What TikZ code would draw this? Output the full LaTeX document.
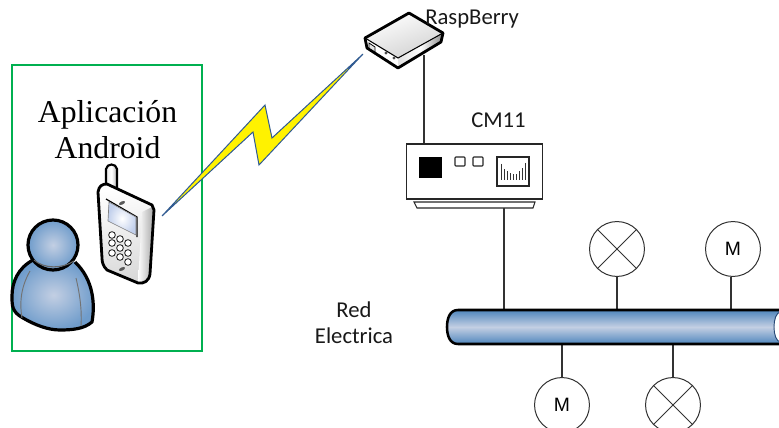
\documentclass[tikz,border=0pt]{standalone}
\usepackage{fontspec}
\setmainfont{Liberation Serif}
\newfontfamily\calfont{Carlito}
\newfontfamily\arialfont{Liberation Sans}
\definecolor{frameg}{HTML}{00B050}
\definecolor{boltline}{HTML}{2F5A94}
\definecolor{busdark}{HTML}{4F86BD}
\definecolor{buslight}{HTML}{C3CFE3}
\definecolor{persondark}{HTML}{6F9CCB}
\definecolor{screenblue}{HTML}{C2D0EC}
\definecolor{lineg}{HTML}{333333}
\tikzset{
  every node/.style={inner sep=0pt},
  wire/.style={draw=lineg,line width=0.95pt},
  load/.style={circle,draw=lineg,line width=0.75pt,minimum size=41.2pt,fill=white},
  caption/.style={font=\calfont\fontsize{17}{19.5}\selectfont,align=center,text=black!90},
  thick outline/.style={draw=black,line width=2.1pt,line join=round},
  key/.style={circle,draw=black!85,line width=0.65pt,fill=white,minimum size=5pt},
}
\begin{document}
\begin{tikzpicture}[x=0.75pt,y=-0.75pt]
\useasboundingbox (0,0) rectangle (779,428);
\clip (0,0) rectangle (779,428);
% frame
\path[draw=frameg,line width=1.1pt] (12,65) rectangle (202,351);
\node[align=center,font=\fontsize{23.8}{27}\selectfont] (app) at (107.5,130) {Aplicación\\Android};
% connection points
\coordinate (busT) at (500,310);
\coordinate (busB) at (500,344);
\coordinate (routerBase) at (424,55);
% bolt
\path[draw=boltline,line width=0.75pt,fill=yellow,line join=miter] (162,216) -- (265,105) -- (272,138) -- (363,54) -- (259,165) -- (253,132) -- cycle;
% wires behind
\node[draw=black!85,line width=1pt,fill=white,minimum width=102pt,minimum height=41pt] (cm) at (474.5,171.5) {};
\draw[wire] (routerBase) -- (routerBase |- cm.north);
% router
\path[shade,top color=white,bottom color=black!18,shading angle=20] (365,38) -- (409,13) -- (443,33) -- (398,58) -- cycle;
\path[left color=black!12,right color=black!45,middle color=white] (398,58) -- (443,33) -- (441,42) -- (398,68) -- cycle;
\path[fill=white] (365,38) -- (398,58) -- (398,68) -- (367,48) -- cycle;
\draw[draw=black,line width=0.6pt,fill=black!10] (369,43) -- (375,47) -- (375,53) -- (369,49) -- cycle;
\fill[black!70] (386,53) circle (1.7) (394,58) circle (1.7);
\draw[thick outline] (365,38) -- (409,13) -- (443,33) -- (441,42) -- (398,68) -- (367,48) -- cycle;
\draw[draw=black,line width=0.8pt] (365,38) -- (398,58) -- (443,33);
% CM11 details
\fill[black] (419,157) rectangle (442,178);
\draw[draw=black!85,line width=0.8pt,rounded corners=0.6pt] (455,157) rectangle (465,166) (473,157) rectangle (483,166);
\draw[draw=black!85,line width=0.8pt] (497,157) rectangle (529,186);
\foreach \xx/\yb in {501/164,504/169,507/171,510/173,513/174,516/174,519/171,522/168,525/163}{
  \draw[draw=black!80,line width=0.5pt] (\xx,\yb) -- (\xx,180);
}
\path[draw=black!85,line width=0.8pt,fill=white] (414,202) -- (535,202) -- (533,208) -- (417,208) -- cycle;
\coordinate (cmBase) at (504,208);
\node[caption] (lblcm) at (498.5,120) {CM11};
\node[caption,anchor=west] (lblr) at (425,19) {RaspBerry};
\node[caption] (lblred) at (354,323) {Red\\Electrica};
% wires to the bus
\draw[wire] (cmBase) -- (cmBase |- busT);
\node[load] (lampA) at (617,249) {};
\draw[line width=0.75pt,draw=lineg] (lampA.north west) -- (lampA.south east) (lampA.north east) -- (lampA.south west);
\node[load,font=\arialfont\fontsize{14.5}{16}\selectfont] (motA) at (733,249) {M};
\node[load,font=\arialfont\fontsize{14.5}{16}\selectfont] (motB) at (562,405) {M};
\node[load] (lampB) at (673,405) {};
\draw[line width=0.75pt,draw=lineg] (lampB.north west) -- (lampB.south east) (lampB.north east) -- (lampB.south west);
\draw[wire] (lampA.south) -- (lampA.south |- busT);
\draw[wire] ([xshift=-1.5pt]motA.south) -- ([xshift=-1.5pt]motA.south |- busT);
\draw[wire] (motB.north) -- (motB.north |- busB);
\draw[wire] (lampB.north) -- (lampB.north |- busB);
% bus
\path[shade,shading=axis,top color=busdark,bottom color=busdark,middle color=buslight,shading angle=0]
  (458,310) -- (800,310) -- (800,344) -- (458,344) .. controls (450,344) and (447,336) .. (447,327) .. controls (447,318) and (450,310) .. (458,310) -- cycle;
\draw[draw=black,line width=1.9pt] (800,310) -- (458,310) .. controls (450,310) and (447,318) .. (447,327) .. controls (447,336) and (450,344) .. (458,344) -- (800,344);
\draw[draw=boltline!80!black,line width=0.7pt,fill=white] (790,312) -- (781,312) .. controls (776,312) and (774,320) .. (774,327) .. controls (774,334) and (776,342) .. (781,342) -- (790,342) -- cycle;
% person
\path[inner color=buslight,outer color=persondark] (33,260) .. controls (18,268) and (12,282) .. (12,296) .. controls (12,306) and (12,312) .. (23,318) .. controls (35,325) and (48,330) .. (60,330) .. controls (72,330) and (84,329) .. (92,322) .. controls (95,305) and (94,280) .. (75,262) -- cycle;
\draw[thick outline,line width=2.4pt] (33,260) .. controls (18,268) and (12,282) .. (12,296) .. controls (12,306) and (12,312) .. (23,318) .. controls (35,325) and (48,330) .. (60,330) .. controls (72,330) and (84,329) .. (92,322) .. controls (95,305) and (94,280) .. (75,262);
\path[inner color=buslight,outer color=persondark,draw=black,line width=2.4pt] (53,245) circle (25);
\draw[draw=black!60,line width=0.8pt] (34,260) .. controls (44,269) and (62,269) .. (74,261);
\draw[draw=black!55,line width=0.7pt] (30,271) .. controls (22,285) and (19,300) .. (22,318);
\draw[draw=black!55,line width=0.7pt] (76,278) .. controls (80,295) and (82,310) .. (81,326);
% phone
\path[left color=black!8,right color=black!30,middle color=white,draw=black,line width=1.6pt] (106,190) -- (106,169) .. controls (107,163) and (116,163) .. (117,169) -- (117,190) -- cycle;
\path[shade,top color=white,bottom color=black!15,shading angle=10] (98,192) .. controls (99,186) and (102,184) .. (107,184) -- (152,205) -- (154,208) -- (150,274) .. controls (149,281) and (144,284) .. (138,283) -- (107,270) .. controls (103,266) and (102,262) .. (102,258) -- cycle;
\path[left color=white,right color=black!35] (142,212) -- (154,206) -- (150,276) -- (138,283) -- cycle;
\draw[thick outline] (98,192) .. controls (99,186) and (102,184) .. (107,184) -- (152,205) -- (154,210) -- (150,274) .. controls (149,281) and (144,284) .. (138,283) -- (107,270) .. controls (103,266) and (102,262) .. (102,258) -- cycle;
\draw[draw=black,line width=0.9pt] (106,199) -- (137,217) -- (137,237);
\path[inner color=white,outer color=screenblue,draw=black!50,line width=0.5pt] (109,202) -- (136,217) -- (136,235) -- (108,221) -- cycle;
\foreach \kx/\ky in {112/235,120/239,128/243,112/243,120/248,128/253,112/253,120/257,128/262}{
  \node[key] (k\kx\ky) at (\kx,\ky) {};
}
\fill[black!65,rotate around={25:(122,203)}] (122,203) ellipse (3.3 and 1.6);
\fill[black!65,rotate around={25:(122,269)}] (122,269) ellipse (3.3 and 1.6);
\end{tikzpicture}
\end{document}
